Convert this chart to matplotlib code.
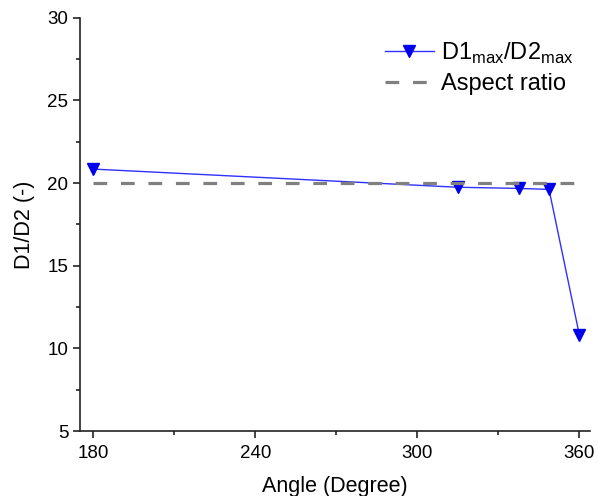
import matplotlib
matplotlib.use("Agg")
import matplotlib.pyplot as plt
from matplotlib.ticker import MultipleLocator

plt.rcParams['font.family'] = ['Liberation Sans', 'DejaVu Sans']
plt.rcParams['mathtext.fontset'] = 'custom'
plt.rcParams['mathtext.rm'] = 'Liberation Sans'

# 数据
angles = [180, 315, 337.5, 348.75, 360]
ratio = [20.85, 19.75, 19.68, 19.62, 10.8]
aspect_x = [180, 360]
aspect_y = [20, 20]

fig = plt.figure(figsize=(5.98, 4.96), dpi=100)
ax = fig.add_axes([0.134, 0.131, 0.853, 0.833])

ax.plot(angles, ratio, color='#3030ff', lw=1.0, marker='v', markersize=8,
        markerfacecolor='#0000ee', markeredgecolor='#0000ee',
        label=r'D1$_{\mathregular{max}}$/D2$_{\mathregular{max}}$')
ax.plot(aspect_x, aspect_y, color='#808080', lw=2.3, dashes=(4.3, 4.3),
        label='Aspect ratio')

ax.set_xlim(175.2, 364)
ax.set_ylim(5, 30)
ax.xaxis.set_major_locator(MultipleLocator(60))
ax.xaxis.set_minor_locator(MultipleLocator(30))
ax.yaxis.set_major_locator(MultipleLocator(5))
ax.yaxis.set_minor_locator(MultipleLocator(2.5))

for s in ['top', 'right']:
    ax.spines[s].set_visible(False)
for s in ['left', 'bottom']:
    ax.spines[s].set_linewidth(1.2)
    ax.spines[s].set_color('#222222')

ax.tick_params(which='major', direction='out', length=5, width=1.2, labelsize=13.5, colors='#222222')
ax.tick_params(which='minor', direction='out', length=3, width=1.2, colors='#222222')
ax.tick_params(axis='x', pad=5)
ax.tick_params(labelcolor='black')

ax.set_xlabel('Angle (Degree)', fontsize=15.5, labelpad=10)
ax.set_ylabel('D1/D2 (-)', fontsize=15.5, labelpad=9)

ax.legend(loc='upper right', frameon=False, fontsize=17, handlelength=2.1,
          handletextpad=0.3, labelspacing=0.3, borderaxespad=0.3,
          bbox_to_anchor=(1.0, 0.985))

fig.savefig('out.png', dpi=100)
